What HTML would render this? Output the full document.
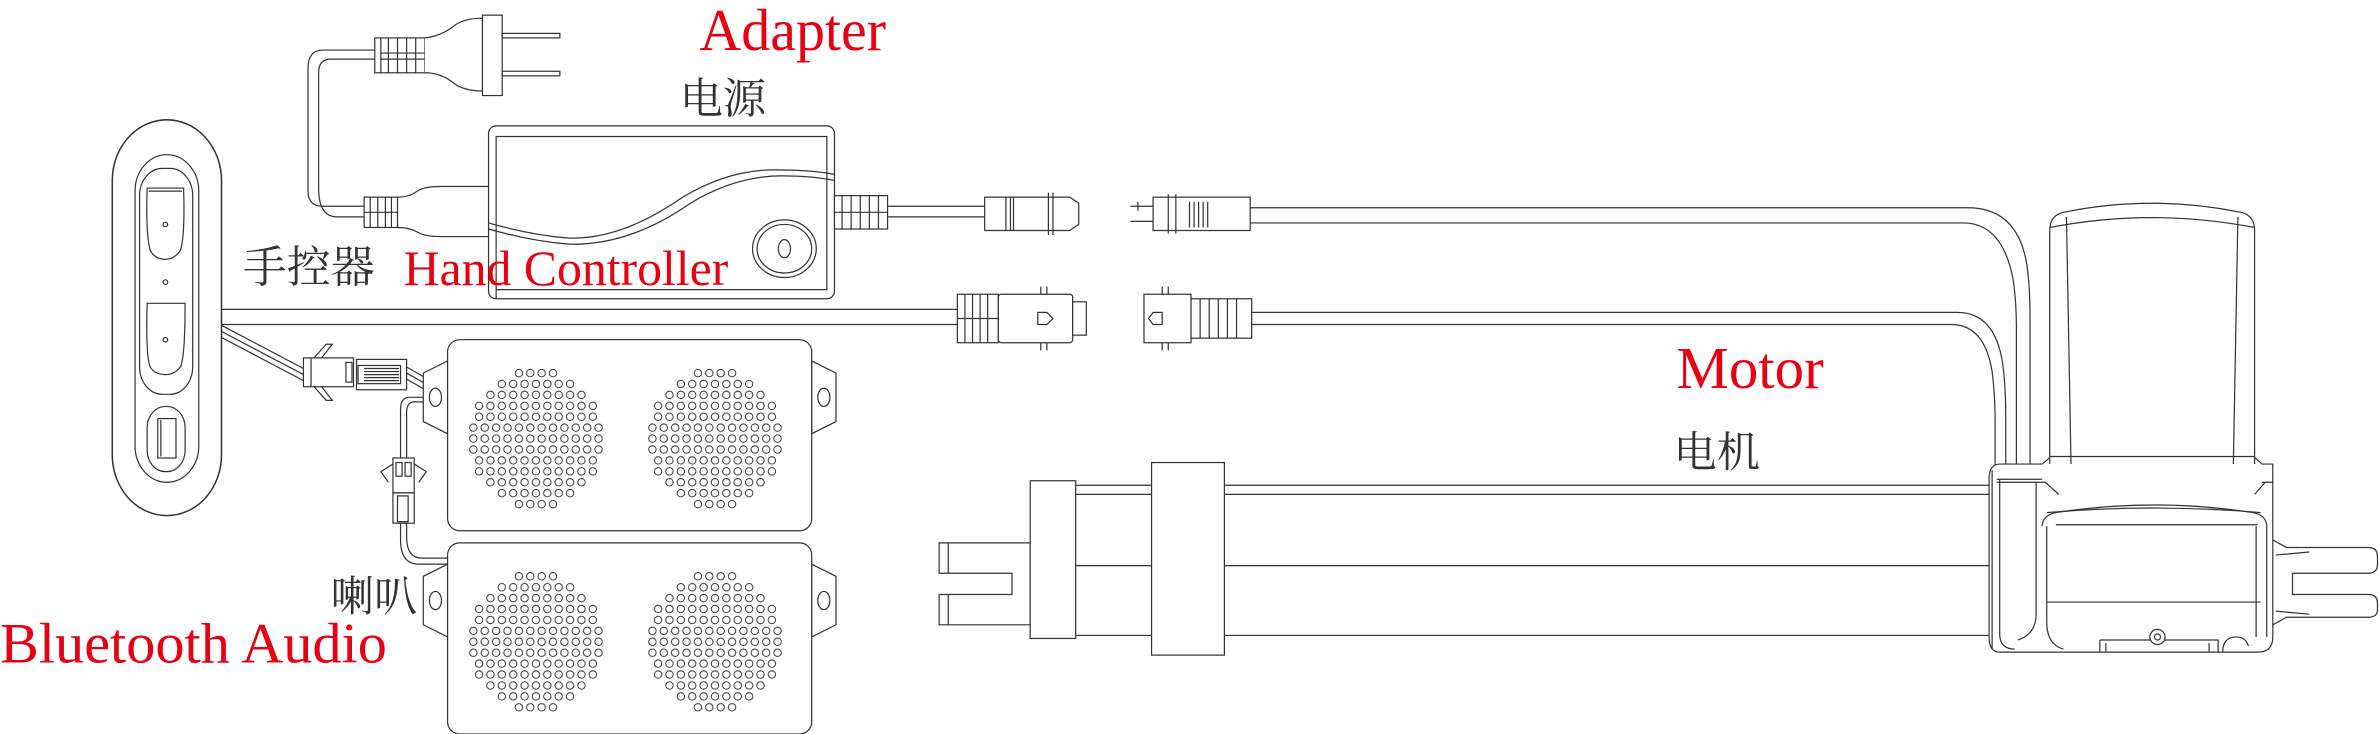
<!DOCTYPE html>
<html><head><meta charset="utf-8"><style>
html,body{margin:0;padding:0;background:#fff;}
svg{display:block;}
.r{fill:#e60012;font-family:"Liberation Serif",serif;}
.c{fill:#333;font-family:"Liberation Serif","Noto Serif CJK SC","Noto Sans CJK SC",serif;}
</style></head><body>
<svg width="2379" height="734" viewBox="0 0 1568 484" preserveAspectRatio="none" xmlns="http://www.w3.org/2000/svg" xmlns:xlink="http://www.w3.org/1999/xlink">
<defs>
<g id="rows">
<line x1="-15" y1="0" x2="15" y2="0"/>
<line x1="-26.25" y1="7.2" x2="26.25" y2="7.2"/>
<line x1="-33.75" y1="14.4" x2="33.75" y2="14.4"/>
<line x1="-41.25" y1="21.6" x2="41.25" y2="21.6"/>
<line x1="-41.25" y1="28.8" x2="41.25" y2="28.8"/>
<line x1="-45" y1="36" x2="45" y2="36"/>
<line x1="-45" y1="43.2" x2="45" y2="43.2"/>
<line x1="-45" y1="50.4" x2="45" y2="50.4"/>
<line x1="-41.25" y1="57.6" x2="41.25" y2="57.6"/>
<line x1="-41.25" y1="64.8" x2="41.25" y2="64.8"/>
<line x1="-33.75" y1="72" x2="33.75" y2="72"/>
<line x1="-26.25" y1="79.2" x2="26.25" y2="79.2"/>
<line x1="-15" y1="86.4" x2="15" y2="86.4"/>
</g>
<g id="grid" stroke-dasharray="0 7.5" stroke-linecap="round">
<use xlink:href="#rows" stroke="#444" stroke-width="5.6"/>
<use xlink:href="#rows" stroke="#fff" stroke-width="4.2"/>
</g>
<g id="spk" fill="#fff" stroke="#333" stroke-width="0.8">
<path d="M295,14 L279,22 L279,54 L295,62 Z M535,14 L551,22 L551,54 L535,62 Z"/>
<ellipse cx="287" cy="38" rx="4" ry="6"/>
<ellipse cx="543" cy="38" rx="4" ry="6"/>
<rect x="295" y="0" width="240" height="126" rx="8"/>
</g>
</defs>

<g fill="none" stroke="#333" stroke-width="0.8">
<!-- plug cord loop -->
<path d="M247,33 H213 Q203,33 203,45 V126 Q203,136 213,136 H240"/>
<path d="M247,39 H218 Q210,39 210,48 V124 Q210,143 222,143 H240"/>
<!-- plug -->
<rect x="247" y="25" width="33" height="23" fill="#fff"/>
<path d="M251,25V48M256,25V48M262,25V48M268,25V48M274,25V48M251,35H280M251,39H280"/>
<path d="M280,25 Q290,24 298,18 Q305,12 318,12 V60 Q305,60 298,54 Q290,48 280,48" fill="#fff"/>
<rect x="318" y="10" width="13" height="53" fill="#fff"/>
<rect x="331" y="22" width="38" height="3"/>
<rect x="331" y="47" width="38" height="3"/>
<!-- adapter input strain relief -->
<rect x="240" y="130" width="22" height="20" fill="#fff"/>
<path d="M244,130V150M249,130V150M254,130V150M258,130V150M240,140H262"/>
<path d="M262,130 Q270,130 275,126 Q280,123 290,123 H322 M262,150 Q270,150 275,153 Q280,156 290,156 H322"/>
<!-- adapter box -->
<rect x="322" y="83" width="228" height="114" rx="5" fill="#fff"/>
<path d="M327,197 V90 H545 V191 H327"/>
<path d="M322,147 Q350,155 375,157 Q410,158 450,130 Q480,112 510,112 Q535,112 550,115"/>
<path d="M322,151 Q350,159 375,161 Q415,162 455,134 Q485,116 515,116 Q535,116 550,119"/>
<ellipse cx="517" cy="164" rx="21" ry="19"/>
<ellipse cx="517" cy="164" rx="18" ry="16"/>
<ellipse cx="517" cy="164" rx="4" ry="6"/>
<!-- adapter output -->
<rect x="550" y="129" width="35" height="22" fill="#fff"/>
<path d="M555,129V151M561,129V151M567,129V151M573,129V151M579,129V151M550,140H585"/>
<path d="M585,136 H649 M585,143 H649"/>
<path d="M649,130 H705 L711,134 V148 L705,152 H649 Z" fill="#fff"/>
<path d="M663,130V152M666,130V152M668,130V152M691,127V155M694,127V155"/>
<!-- motor plug -->
<path d="M745,136 H760 M745,146 H760 M750,133 V139"/>
<rect x="760" y="130" width="64" height="22" fill="#fff"/>
<path d="M770,128V154M775,128V154 M784,133V150M787,133V150M790,133V150M793,133V150M796,133V150"/>
<!-- motor cable upper -->
<path d="M824,137 H1297 Q1330,137 1336,175 Q1338,190 1338,210 V307"/>
<path d="M824,147 H1294 Q1320,147 1327,185 Q1329,200 1329,215 V307"/>
<!-- hand controller cable -->
<path d="M145,204 H631 M145,214 H631"/>
<rect x="631" y="194" width="27" height="32" fill="#fff"/>
<path d="M636,194V226M641,194V226M646,194V226M651,194V226M631,210H658"/>
<rect x="658" y="194" width="49" height="32" rx="2" fill="#fff"/>
<rect x="707" y="199" width="9" height="22" fill="#fff"/>
<path d="M686,189V194M690,189V194M686,226V231M690,226V231"/>
<path d="M684,206 H690 L694,210 L690,214 H684 Z"/>
<!-- motor female -->
<rect x="754" y="194" width="31" height="32" fill="#fff"/>
<path d="M766,189V194M770,189V194M766,226V231M770,226V231"/>
<path d="M766,206 H760 L757,210 L760,214 H766 Z"/>
<rect x="785" y="197" width="40" height="26" fill="#fff"/>
<path d="M791,197V223M797,197V223M803,197V223M809,197V223M815,197V223"/>
<path d="M825,206 H1290 Q1315,206 1320,240 Q1322,255 1322,275 V307"/>
<path d="M825,214 H1286 Q1308,214 1313,245 Q1315,260 1315,280 V307"/>
<!-- speaker wires from hand controller -->
<path d="M145,214 L200,243 M145,218 L200,247 M145,222 L200,251"/>
<rect x="200" y="236" width="33" height="19" fill="#fff"/>
<path d="M228,239 V252 H232 V239 Z M205,236 V255"/>
<path d="M212,236 L219,227 L215,227 L207,236 M212,255 L219,264 L215,264 L207,255"/>
<rect x="235" y="237" width="33" height="20" fill="#fff"/>
<rect x="236" y="241" width="28" height="12"/>
<path d="M240,243H263M240,245H263M240,247H263M240,249H263M240,251H263"/>
<path d="M268,242 L296,258 M268,246 L296,262 M268,250 L296,266"/>
<path d="M296,262 H270 Q264,262 264,270 V356 Q264,372 276,372 H296"/>
<path d="M296,265 H273 Q268,265 268,272 V354 Q268,368 278,368 H296"/>
<rect x="259" y="302" width="14" height="23" fill="#fff"/>
<rect x="261" y="305" width="4" height="9"/><rect x="267" y="305" width="4" height="9"/>
<rect x="259" y="325" width="14" height="20" fill="#fff"/>
<rect x="262" y="327" width="7" height="17"/>
<path d="M259,306 L251,311 L256,318 M273,306 L281,311 L276,318"/>
<!-- hand controller -->
<rect x="74" y="79" width="72" height="261" rx="36" ry="40" fill="#fff" stroke-width="1"/>
<rect x="89" y="102" width="42" height="216" rx="21" ry="24"/>
<rect x="92" y="111" width="35" height="149" rx="15" ry="18"/>
<path d="M97,124 H121 Q122,155 119,165 Q115,171 109,171 Q102,171 99,165 Q96,155 97,124 Z"/>
<path d="M98,126 H120" />
<path d="M97,200 H122 Q122,235 119,242 Q115,247 109,247 Q102,247 99,242 Q96,235 97,200 Z"/>
<circle cx="109" cy="148" r="1.5"/>
<circle cx="109" cy="186" r="1.5"/>
<circle cx="109" cy="224" r="1.5"/>
<rect x="97" y="268" width="25" height="43" rx="12" ry="14"/>
<rect x="104" y="276" width="12" height="26"/>
<path d="M106,277V301"/>
<!-- actuator -->
<path d="M619,358 H679 V412 H619 V392 H667 V378 H619 Z" fill="#fff"/>
<path d="M625,358 V378 M625,392 V412"/>
<rect x="679" y="317" width="30" height="104" fill="#fff"/>
<path d="M709,320 H759 M709,326 H759 M709,373 H759 M709,419 H759"/>
<rect x="759" y="305" width="48" height="127" fill="#fff"/>
<path d="M807,320 H1312 M807,326 H1312 M807,373 H1312 M807,419 H1312"/>
<!-- motor shaft -->
<path d="M1498,356 L1507,361 H1561 Q1567,361 1567,367 V372 Q1567,378 1561,378 H1511 V392 H1561 Q1567,392 1567,398 V402 Q1567,407 1561,407 H1507 L1498,412" fill="#fff"/>
<path d="M1500,366 L1522,364 M1500,403 L1522,405"/>
<!-- gearbox -->
<path d="M1318,306 H1346 L1353,300 H1484 L1491,306 H1498 V420 Q1498,430 1488,430 H1318 Q1311,430 1311,420 V316 Q1311,306 1318,306 Z" fill="#fff"/>
<path d="M1313,310 V428 M1316,316 H1346"/>
<path d="M1318,316 V418 Q1318,428 1328,428 M1342,318 V405 Q1342,418 1330,422"/>
<path d="M1316,318 Q1346,318 1348,318 L1357,326 M1493,318 L1486,326 M1491,318 H1498"/>
<path d="M1346,347 Q1346,340 1355,338 Q1420,328 1485,338 Q1494,340 1494,347 V420 M1349,347 V410 Q1349,425 1360,428"/>
<path d="M1355,346 H1488 M1349,397 H1490 M1487,347 V420"/>
<path d="M1349,338 Q1420,332 1490,338"/>
<path d="M1384,422 V430 M1384,422 H1462 V430 M1388,424 V430 M1456,424 V430"/>
<circle cx="1422" cy="420" r="5" fill="#fff"/><circle cx="1422" cy="420" r="2"/>
<path d="M1465,430 Q1465,420 1474,420 Q1480,420 1482,426"/>
<!-- motor can -->
<path d="M1351,306 V152 Q1351,142 1360,140 Q1418,128 1477,140 Q1486,142 1486,152 V306" fill="#fff"/>
<path d="M1351,150 Q1418,137 1486,150"/>
<path d="M1362,143 L1365,306 M1475,143 L1472,306 M1351,301 H1486"/>
</g>

<!-- speakers -->
<g><use xlink:href="#spk" y="224"/>
<use xlink:href="#spk" y="358"/>
<use xlink:href="#grid" x="357" y="246"/>
<use xlink:href="#grid" x="475" y="246"/>
<use xlink:href="#grid" x="357" y="380"/>
<use xlink:href="#grid" x="475" y="380"/></g>

<!-- labels -->
<text class="r" x="461" y="33" font-size="39" textLength="123" lengthAdjust="spacingAndGlyphs">Adapter</text>
<text class="c" x="448" y="75" font-size="28" textLength="57" lengthAdjust="spacingAndGlyphs">电源</text>
<text class="c" x="160" y="186" font-size="29" textLength="87" lengthAdjust="spacingAndGlyphs">手控器</text>
<text class="r" x="266" y="188" font-size="33" textLength="214" lengthAdjust="spacingAndGlyphs">Hand Controller</text>
<text class="r" x="1105" y="256" font-size="39" textLength="97" lengthAdjust="spacingAndGlyphs">Motor</text>
<text class="c" x="1103" y="308" font-size="28" textLength="57" lengthAdjust="spacingAndGlyphs">电机</text>
<text class="c" x="218" y="403" font-size="28" textLength="57" lengthAdjust="spacingAndGlyphs">喇叭</text>
<text class="r" x="0" y="437" font-size="38" textLength="255" lengthAdjust="spacingAndGlyphs">Bluetooth Audio</text>
</svg>
</body></html>
